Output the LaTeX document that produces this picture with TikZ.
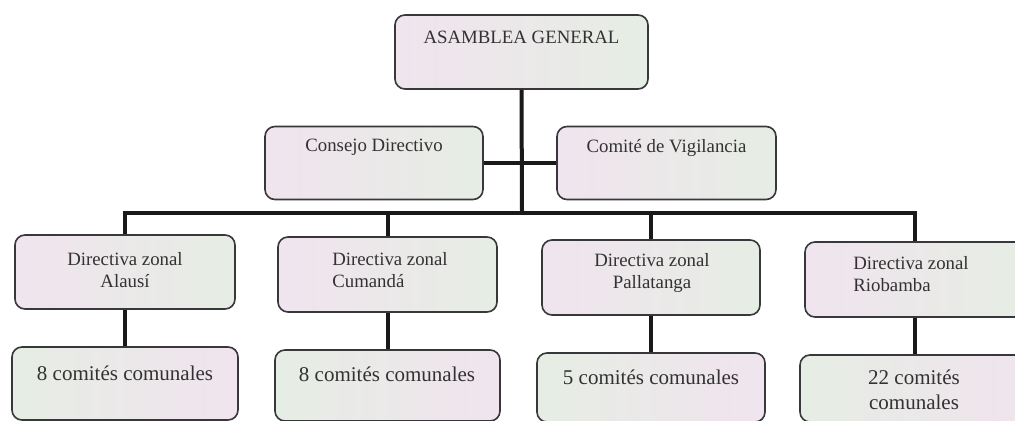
\documentclass[tikz,border=0pt]{standalone}
\usepackage{fontspec}
\setmainfont{Liberation Serif}
\usepackage{xcolor}
\usetikzlibrary{positioning}

\definecolor{rosaC}{RGB}{240,228,238}
\definecolor{lilaC}{RGB}{234,230,242}
\definecolor{verdeC}{RGB}{230,237,228}
\definecolor{bordeC}{RGB}{55,55,60}
\definecolor{textoC}{RGB}{50,50,50}

\tikzset{
  caja/.style={draw=bordeC, line width=0.8pt, rounded corners=5pt,
    left color=rosaC, middle color=lilaC, right color=verdeC, inner sep=0pt},
  cajaB/.style={caja, left color=verdeC, middle color=lilaC, right color=rosaC},
  txt/.style={text=textoC, inner sep=0pt, font=\fontsize{9.4}{11.2}\selectfont},
  txtB/.style={txt, font=\fontsize{10.5}{12.5}\selectfont},
  enlace/.style={line width=2pt, draw=black!90}
}

\begin{document}
\begin{tikzpicture}[x=0.5pt, y=-0.5pt]

    % =================================================================
    % 1. MARCO DE LA FIGURA
    % =================================================================
    \useasboundingbox (0,0) rectangle (1015,421);
    \fill[white] (0,0) rectangle (1015,421);
    \clip (0,0) rectangle (1015,421);

    % =================================================================
    % 2. CAJAS DE LOS NIVELES SUPERIORES
    % =================================================================
    \node[caja, minimum width=126.5pt, minimum height=37pt] (asam) at (521.5,52) {};
    \node[caja, minimum width=109pt, minimum height=36.5pt] (cons) at (374,163) {};
    \node[caja, minimum width=109.5pt, minimum height=36.5pt] (vig) at (666.5,163) {};

    % Directivas zonales
    \node[caja, minimum width=110pt, minimum height=37pt] (z1) at (125,272) {};
    \node[caja, minimum width=109.5pt, minimum height=37.5pt] (z2) at (387.5,274.5) {};
    \node[caja, minimum width=109pt, minimum height=37.5pt] (z3) at (651,277.5) {};
    \node[caja, minimum width=110pt, minimum height=37.5pt] (z4) at (915,279.5) {};

    % Comites comunales
    \node[cajaB, minimum width=113pt, minimum height=36.5pt] (c1) at (125,383.5) {};
    \node[cajaB, minimum width=112.5pt, minimum height=35.5pt] (c2) at (387.5,385.5) {};
    \node[cajaB, minimum width=114pt, minimum height=34.5pt] (c3) at (651,387.5) {};
    \node[cajaB, minimum width=115pt, minimum height=33.5pt] (c4) at (915,388.5) {};

    % =================================================================
    % 3. TEXTOS DE LAS CAJAS
    % =================================================================
    \node[txt] (asam-t) at (521.5,37) {ASAMBLEA GENERAL};
    \node[txt] (cons-t) at (374,147) {Consejo Directivo};
    \node[txt] (vig-t) at (666.5,148) {Comité de Vigilancia};

    \node[txt, align=center] (z1-t) at (125,270) {Directiva zonal\\Alausí};
    \node[txt, align=left] (z2-t) at (390,270) {Directiva zonal\\Cumandá};
    \node[txt, align=center] (z3-t) at (652,273) {Directiva zonal\\Pallatanga};
    \node[txt, align=left] (z4-t) at (911,274) {Directiva zonal\\Riobamba};

    \node[txtB] (c1-t) at (125,373) {8 comités comunales};
    \node[txtB] (c2-t) at (387,374) {8 comités comunales};
    \node[txtB] (c3-t) at (651,377) {5 comités comunales};
    \node[txtB, align=center] (c4-t) at (914,390) {22 comités\\comunales};

    % =================================================================
    % 4. LINEAS DE UNION
    % =================================================================
    \coordinate (bus) at (522,213);

    % Tronco central y union entre consejo y vigilancia
    \draw[enlace] (asam.south) -- (bus);
    \draw[enlace] (cons.east) -- (vig.west);

    % Barra horizontal hacia las directivas zonales
    \draw[enlace] (z1.north) |- (bus) -| (z4.north);
    \draw[enlace] (z2.north) -- (z2.north |- bus);
    \draw[enlace] (z3.north) -- (z3.north |- bus);

    % Directivas hacia sus comites
    \foreach \i in {1,...,4}
        \draw[enlace] (z\i.south) -- (c\i.north);

\end{tikzpicture}
\end{document}
